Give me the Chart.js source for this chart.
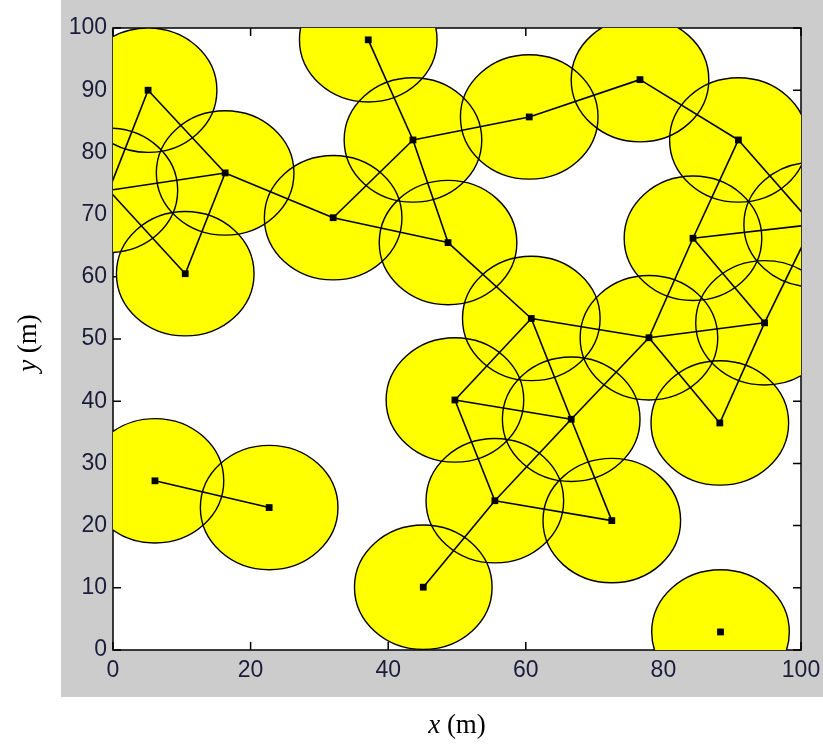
<!DOCTYPE html>
<html>
<head>
<meta charset="utf-8">
<script src="https://cdn.jsdelivr.net/npm/chart.js@4.4.0/dist/chart.umd.min.js"></script>
<style>
  html, body { margin: 0; padding: 0; background: #fff; }
</style>
</head>
<body>
<canvas id="netChart" width="823" height="747"></canvas>
<script>
// node positions (m); two nodes sit just outside the field on the left/right edge
const nodeX = [5.1, 16.3, 10.5, -0.6, 32.0, 37.1, 43.6, 48.7, 60.5, 76.6, 90.9, 84.3, 101.7,
               94.7, 77.9, 88.2, 60.8, 49.7, 66.6, 55.5, 72.5, 45.1, 6.1, 22.7, 88.3];
const nodeY = [90.0, 76.7, 60.5, 73.9, 69.5, 98.1, 82.0, 65.5, 85.7, 91.7, 82.0, 66.2, 68.4,
               52.6, 50.2, 36.5, 53.3, 40.2, 37.1, 24.0, 20.8, 10.1, 27.2, 22.9, 2.9];
// links between node indices
const linkFrom = [0, 0, 3, 3, 1, 1, 4, 4, 5, 6, 6, 8, 9, 10, 10, 11, 11, 11, 13, 13, 13, 14, 14, 14, 7, 16, 16, 17, 17, 19, 19, 18, 19, 22];
const linkTo   = [1, 3, 1, 2, 2, 4, 6, 7, 6, 7, 8, 9, 10, 11, 12, 12, 13, 14, 12, 14, 15, 15, 16, 18, 16, 18, 17, 18, 19, 18, 20, 20, 21, 23];
const sensingRange = 10;
const xTicks = [0, 20, 40, 60, 80, 100];
const yTicks = [0, 10, 20, 30, 40, 50, 60, 70, 80, 90, 100];

const points = nodeX.map((x, i) => ({ x: x, y: nodeY[i] }));

const datasets = [];
linkFrom.forEach((a, i) => {
  datasets.push({
    type: 'line',
    data: [points[a], points[linkTo[i]]],
    borderColor: '#000',
    borderWidth: 1.6,
    pointRadius: 0,
    fill: false
  });
});
datasets.push({
  type: 'scatter',
  data: points,
  pointStyle: 'rect',
  pointRadius: 4.8,
  pointBorderWidth: 0,
  backgroundColor: '#000'
});

const plotFrame = {
  id: 'plotFrame',
  beforeDraw(chart) {
    const ctx = chart.ctx;
    const a = chart.chartArea;
    ctx.save();
    ctx.fillStyle = '#fff';
    ctx.fillRect(0, 0, chart.width, chart.height);
    ctx.fillStyle = '#cccccc';
    ctx.fillRect(61, 0, chart.width - 61, 697);
    ctx.fillStyle = '#fff';
    ctx.fillRect(a.left, a.top, a.right - a.left, a.bottom - a.top);
    ctx.restore();
  },
  beforeDatasetsDraw(chart) {
    const ctx = chart.ctx;
    const a = chart.chartArea;
    const xs = chart.scales.x;
    const ys = chart.scales.y;
    ctx.save();
    // box and inward ticks
    ctx.strokeStyle = '#000';
    ctx.lineWidth = 1.5;
    ctx.strokeRect(a.left, a.top, a.right - a.left, a.bottom - a.top);
    ctx.beginPath();
    xTicks.forEach(v => {
      const px = xs.getPixelForValue(v);
      ctx.moveTo(px, a.bottom); ctx.lineTo(px, a.bottom - 8);
      ctx.moveTo(px, a.top); ctx.lineTo(px, a.top + 8);
    });
    yTicks.forEach(v => {
      const py = ys.getPixelForValue(v);
      ctx.moveTo(a.left, py); ctx.lineTo(a.left + 8, py);
      ctx.moveTo(a.right, py); ctx.lineTo(a.right - 8, py);
    });
    ctx.stroke();

    // coverage discs
    ctx.beginPath();
    ctx.rect(a.left, a.top, a.right - a.left, a.bottom - a.top);
    ctx.clip();
    const discs = points.map(p => {
      const cx = xs.getPixelForValue(p.x);
      const cy = ys.getPixelForValue(p.y);
      const rx = Math.abs(xs.getPixelForValue(p.x + sensingRange) - cx);
      const ry = Math.abs(ys.getPixelForValue(p.y + sensingRange) - cy);
      return [cx, cy, rx, ry];
    });
    ctx.fillStyle = '#ffff00';
    discs.forEach(d => {
      ctx.beginPath();
      ctx.ellipse(d[0], d[1], d[2], d[3], 0, 0, Math.PI * 2);
      ctx.fill();
    });
    ctx.strokeStyle = '#000';
    ctx.lineWidth = 1.4;
    discs.forEach(d => {
      ctx.beginPath();
      ctx.ellipse(d[0], d[1], d[2], d[3], 0, 0, Math.PI * 2);
      ctx.stroke();
    });
    ctx.restore();
  },
  afterDraw(chart) {
    const ctx = chart.ctx;
    const a = chart.chartArea;
    const italic = 'italic 27px "Liberation Serif", "Times New Roman", serif';
    const normal = '27px "Liberation Serif", "Times New Roman", serif';
    function drawTitle(letter, rest) {
      ctx.font = italic;
      const w1 = ctx.measureText(letter).width;
      ctx.font = normal;
      const w2 = ctx.measureText(rest).width;
      const start = -(w1 + w2) / 2;
      ctx.font = italic;
      ctx.fillText(letter, start, 0);
      ctx.font = normal;
      ctx.fillText(rest, start + w1, 0);
    }
    ctx.save();
    ctx.fillStyle = '#000';
    ctx.textAlign = 'left';
    ctx.textBaseline = 'middle';
    ctx.translate((a.left + a.right) / 2, 726);
    drawTitle('x', ' (m)');
    ctx.restore();

    ctx.save();
    ctx.fillStyle = '#000';
    ctx.textAlign = 'left';
    ctx.textBaseline = 'middle';
    ctx.translate(29, (a.top + a.bottom) / 2 + 4);
    ctx.rotate(-Math.PI / 2);
    drawTitle('y', ' (m)');
    ctx.restore();
  }
};

const tickFont = { family: '"Liberation Sans", Arial, sans-serif', size: 23 };

new Chart(document.getElementById('netChart'), {
  type: 'scatter',
  data: { datasets: datasets },
  options: {
    responsive: false,
    animation: false,
    devicePixelRatio: 1,
    layout: { padding: { left: 0, right: 22, top: 28, bottom: 0 } },
    plugins: { legend: { display: false }, tooltip: { enabled: false } },
    scales: {
      x: {
        type: 'linear',
        min: 0, max: 100,
        afterBuildTicks: s => { s.ticks = xTicks.map(v => ({ value: v })); },
        afterFit: s => { s.height = 97; s.paddingLeft = 0; s.paddingRight = 0; },
        grid: { display: false, drawTicks: false },
        border: { display: false },
        ticks: { font: tickFont, color: '#1c1c3a', padding: 7, maxRotation: 0, autoSkip: false }
      },
      y: {
        type: 'linear',
        min: 0, max: 100,
        afterBuildTicks: s => { s.ticks = yTicks.map(v => ({ value: v })); },
        afterFit: s => { s.width = 113; s.paddingTop = 0; s.paddingBottom = 0; },
        grid: { display: false, drawTicks: false },
        border: { display: false },
        ticks: { font: tickFont, color: '#1c1c3a', padding: 6, autoSkip: false }
      }
    }
  },
  plugins: [plotFrame]
});
</script>
</body>
</html>
